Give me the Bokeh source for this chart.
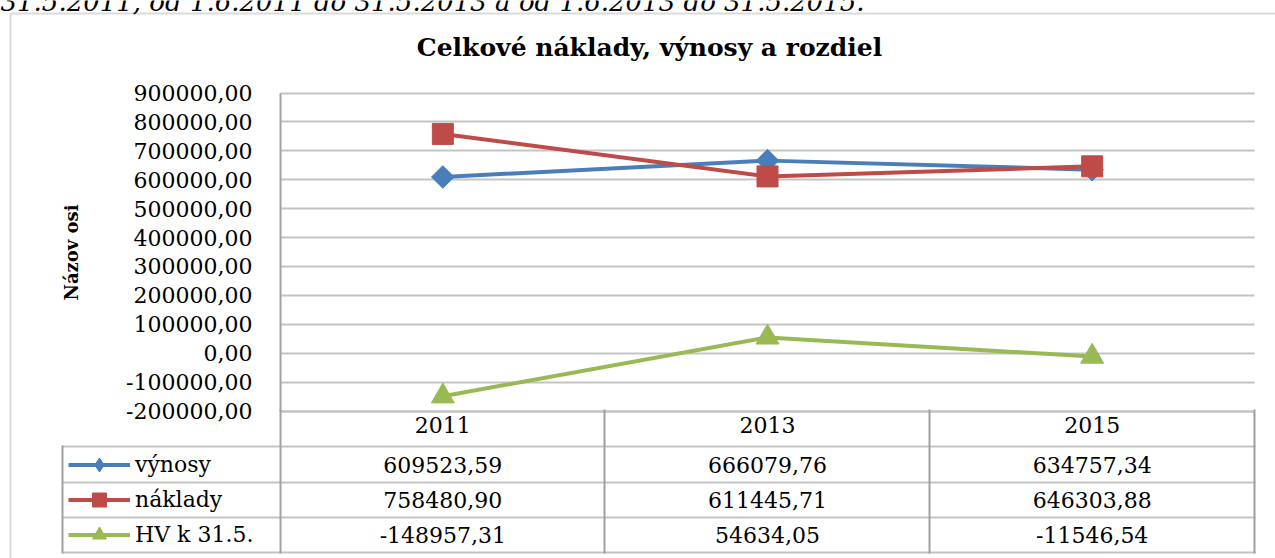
import math
from bokeh.plotting import figure
from bokeh.models import (Range1d, SingleIntervalTicker, FixedTicker, CustomJSTickFormatter,
                          BoxAnnotation, Label, Legend, LegendItem, LinearAxis, Grid)
from bokeh.embed import file_html
from bokeh.resources import INLINE
from bokeh.core.properties import value

# ---------------- data ----------------
years = ["2011", "2013", "2015"]
vynosy = [609523.59, 666079.76, 634757.34]
naklady = [758480.90, 611445.71, 646303.88]
hv = [-148957.31, 54634.05, -11546.54]
series_labels = ["výnosy", "náklady", "HV k 31.5."]
chart_title = "Celkové náklady, výnosy a rozdiel"
y_axis_title = "Názov osi"
y_min, y_max, y_step = -200000, 900000, 100000
top_text = "31.5.2011, od 1.6.2011 do 31.5.2013 a od 1.6.2013 do 31.5.2015."

# ---------------- styling / layout ----------------
SERIF = "DejaVu Serif"
BLUE, RED, GREEN = "#4A7EBB", "#BE4B48", "#98B954"
GRID_C = "#C4C4C4"
VLINE = "#A0A0A0"
FS = "22px"

W, H = 1275, 558
PLOT_L, PLOT_R, PLOT_T, PLOT_B = 280, 1254, 92.5, 410.5   # plot area in canvas px
ROW_LINES = [446, 482, 517, 552]                          # table row rules (px)

n = len(years)
ux = (PLOT_R - PLOT_L) / n
ky = (PLOT_B - PLOT_T) / (y_max - y_min)
x_range = Range1d(-PLOT_L / ux, n + (W - PLOT_R) / ux)
y_range = Range1d(y_min - (H - PLOT_B) / ky, y_max + PLOT_T / ky)
xs = [i + 0.5 for i in range(n)]          # category centres in axis units


def py2y(py):
    return y_range.end - py / ky


def sy(py):  # canvas y (down) -> screen units (up from bottom)
    return H - py


def fmt(v):
    return f"{v:.2f}".replace(".", ",")


p = figure(width=W, height=H, x_range=x_range, y_range=y_range,
           output_backend="svg", toolbar_location=None,
           x_axis_location=None, y_axis_location=None, min_border=0)
p.outline_line_color = None
p.background_fill_color = "white"
p.border_fill_color = "white"
p.xgrid.visible = False
p.ygrid.visible = False

# y axis at the left edge of the plot area
yticker = SingleIntervalTicker(interval=y_step, num_minor_ticks=0)
yaxis = LinearAxis(fixed_location=0, bounds=(y_min, y_max), ticker=yticker,
                   formatter=CustomJSTickFormatter(code="return tick.toFixed(2).replace('.', ',');"))
yaxis.major_label_text_font = SERIF
yaxis.major_label_text_font_size = FS
yaxis.major_label_text_color = "black"
yaxis.major_tick_out = 0
yaxis.major_tick_in = 0
yaxis.minor_tick_out = 0
yaxis.minor_tick_in = 0
yaxis.major_label_standoff = 28
yaxis.axis_line_color = VLINE
yaxis.axis_line_width = 2
yaxis.axis_label = y_axis_title
yaxis.axis_label_text_font = SERIF
yaxis.axis_label_text_font_style = "bold"
yaxis.axis_label_text_font_size = "18px"
yaxis.axis_label_text_color = "black"
yaxis.axis_label_standoff = 41
p.add_layout(yaxis, "left")

# horizontal grid lines limited to the plot area
ygrid = Grid(dimension=1, ticker=yticker, bounds=(y_min, y_max),
             grid_line_color=GRID_C, grid_line_width=2)
if "cross_bounds" in Grid.properties():
    ygrid.cross_bounds = (0, n)
    p.add_layout(ygrid)
else:
    gt = list(range(y_min, y_max + 1, y_step))
    p.segment(x0=[0] * len(gt), x1=[n] * len(gt), y0=gt, y1=gt,
              line_color=GRID_C, line_width=2)

# category axis (table header row)
xaxis = LinearAxis(fixed_location=y_min, bounds=(0, n), ticker=FixedTicker(ticks=xs))
xaxis.major_label_overrides = {x: yr for x, yr in zip(xs, years)}
xaxis.major_label_text_font = SERIF
xaxis.major_label_text_font_size = FS
xaxis.major_label_text_color = "black"
xaxis.major_label_standoff = 6
xaxis.major_tick_out = 0
xaxis.major_tick_in = 0
xaxis.minor_tick_out = 0
xaxis.minor_tick_in = 0
xaxis.axis_line_color = GRID_C
xaxis.axis_line_width = 2
p.add_layout(xaxis, "below")

# table values
row_tops = ROW_LINES[:-1]
row_bots = ROW_LINES[1:]
tx, ty, tt = [], [], []
for r, series in enumerate([vynosy, naklady, hv]):
    for i in range(n):
        tx.append(xs[i])
        ty.append(py2y((row_tops[r] + row_bots[r]) / 2))
        tt.append(fmt(series[i]))
p.text(x=tx, y=ty, text=tt, text_font=value(SERIF), text_font_size=FS,
       text_align="center", text_baseline="middle", text_color="black")

# series
r_v_line = p.line(xs, vynosy, line_color=BLUE, line_width=4)
r_v_pts = p.scatter(xs, vynosy, marker="square", angle=math.pi / 4, size=16,
                    fill_color=BLUE, line_color=BLUE)
# diamond key for the legend (zero-size in the plot itself)
r_v_key = p.scatter(xs, vynosy, marker="diamond", size=0,
                    fill_color=BLUE, line_color=BLUE)
r_n_line = p.line(xs, naklady, line_color=RED, line_width=4)
r_n_pts = p.scatter(xs, naklady, marker="square", size=21,
                    fill_color=RED, line_color=RED)
r_h_line = p.line(xs, hv, line_color=GREEN, line_width=4)
r_h_pts = p.scatter(xs, hv, marker="triangle", size=23,
                    fill_color=GREEN, line_color=GREEN)

legend = Legend(items=[
    LegendItem(label=series_labels[0], renderers=[r_v_line, r_v_key]),
    LegendItem(label=series_labels[1], renderers=[r_n_line, r_n_pts]),
    LegendItem(label=series_labels[2], renderers=[r_h_line, r_h_pts]),
], location=(68, sy(552)))
legend.padding = 0
legend.margin = 0
legend.spacing = 0
legend.glyph_width = 62
legend.glyph_height = 35
legend.label_height = 35
legend.label_standoff = 5
legend.label_text_font = SERIF
legend.label_text_font_size = FS
legend.label_text_color = "black"
legend.background_fill_alpha = 0
legend.border_line_color = None
p.add_layout(legend, "center")


def box(x0, x1, y0, y1, color):
    return BoxAnnotation(left=x0, right=x1, top=sy(y0), bottom=sy(y1),
                         left_units="screen", right_units="screen",
                         top_units="screen", bottom_units="screen",
                         fill_color=color, fill_alpha=1, line_color=None, level="overlay")


# table rules
for yy in ROW_LINES:
    p.add_layout(box(62, 1255, yy - 1, yy + 1, GRID_C))
for xx in [62, 280, 604, 929, 1254]:
    y0 = 446 if xx == 62 else 410
    p.add_layout(box(xx - 1, xx + 1, y0 - 1, 553, VLINE))

# outer chart border
p.add_layout(BoxAnnotation(left=10, right=W + 100, top=sy(13), bottom=-100,
                           left_units="screen", right_units="screen",
                           top_units="screen", bottom_units="screen",
                           fill_color=None, line_color="#858585", line_width=2))

# title
p.add_layout(Label(x=649, y=sy(47), x_units="screen", y_units="screen",
                   text=chart_title, text_font=SERIF, text_font_style="bold",
                   text_font_size="25px", text_align="center", text_baseline="middle",
                   text_color="black"))
# document line above the chart (cropped at the top edge as in the source)
p.add_layout(Label(x=0, y=sy(1), x_units="screen", y_units="screen",
                   text=top_text, text_font=SERIF, text_font_style="italic",
                   text_font_size="26px", text_align="left", text_baseline="alphabetic",
                   text_color="black"))

open("out.html", "w").write(file_html(p, INLINE))
